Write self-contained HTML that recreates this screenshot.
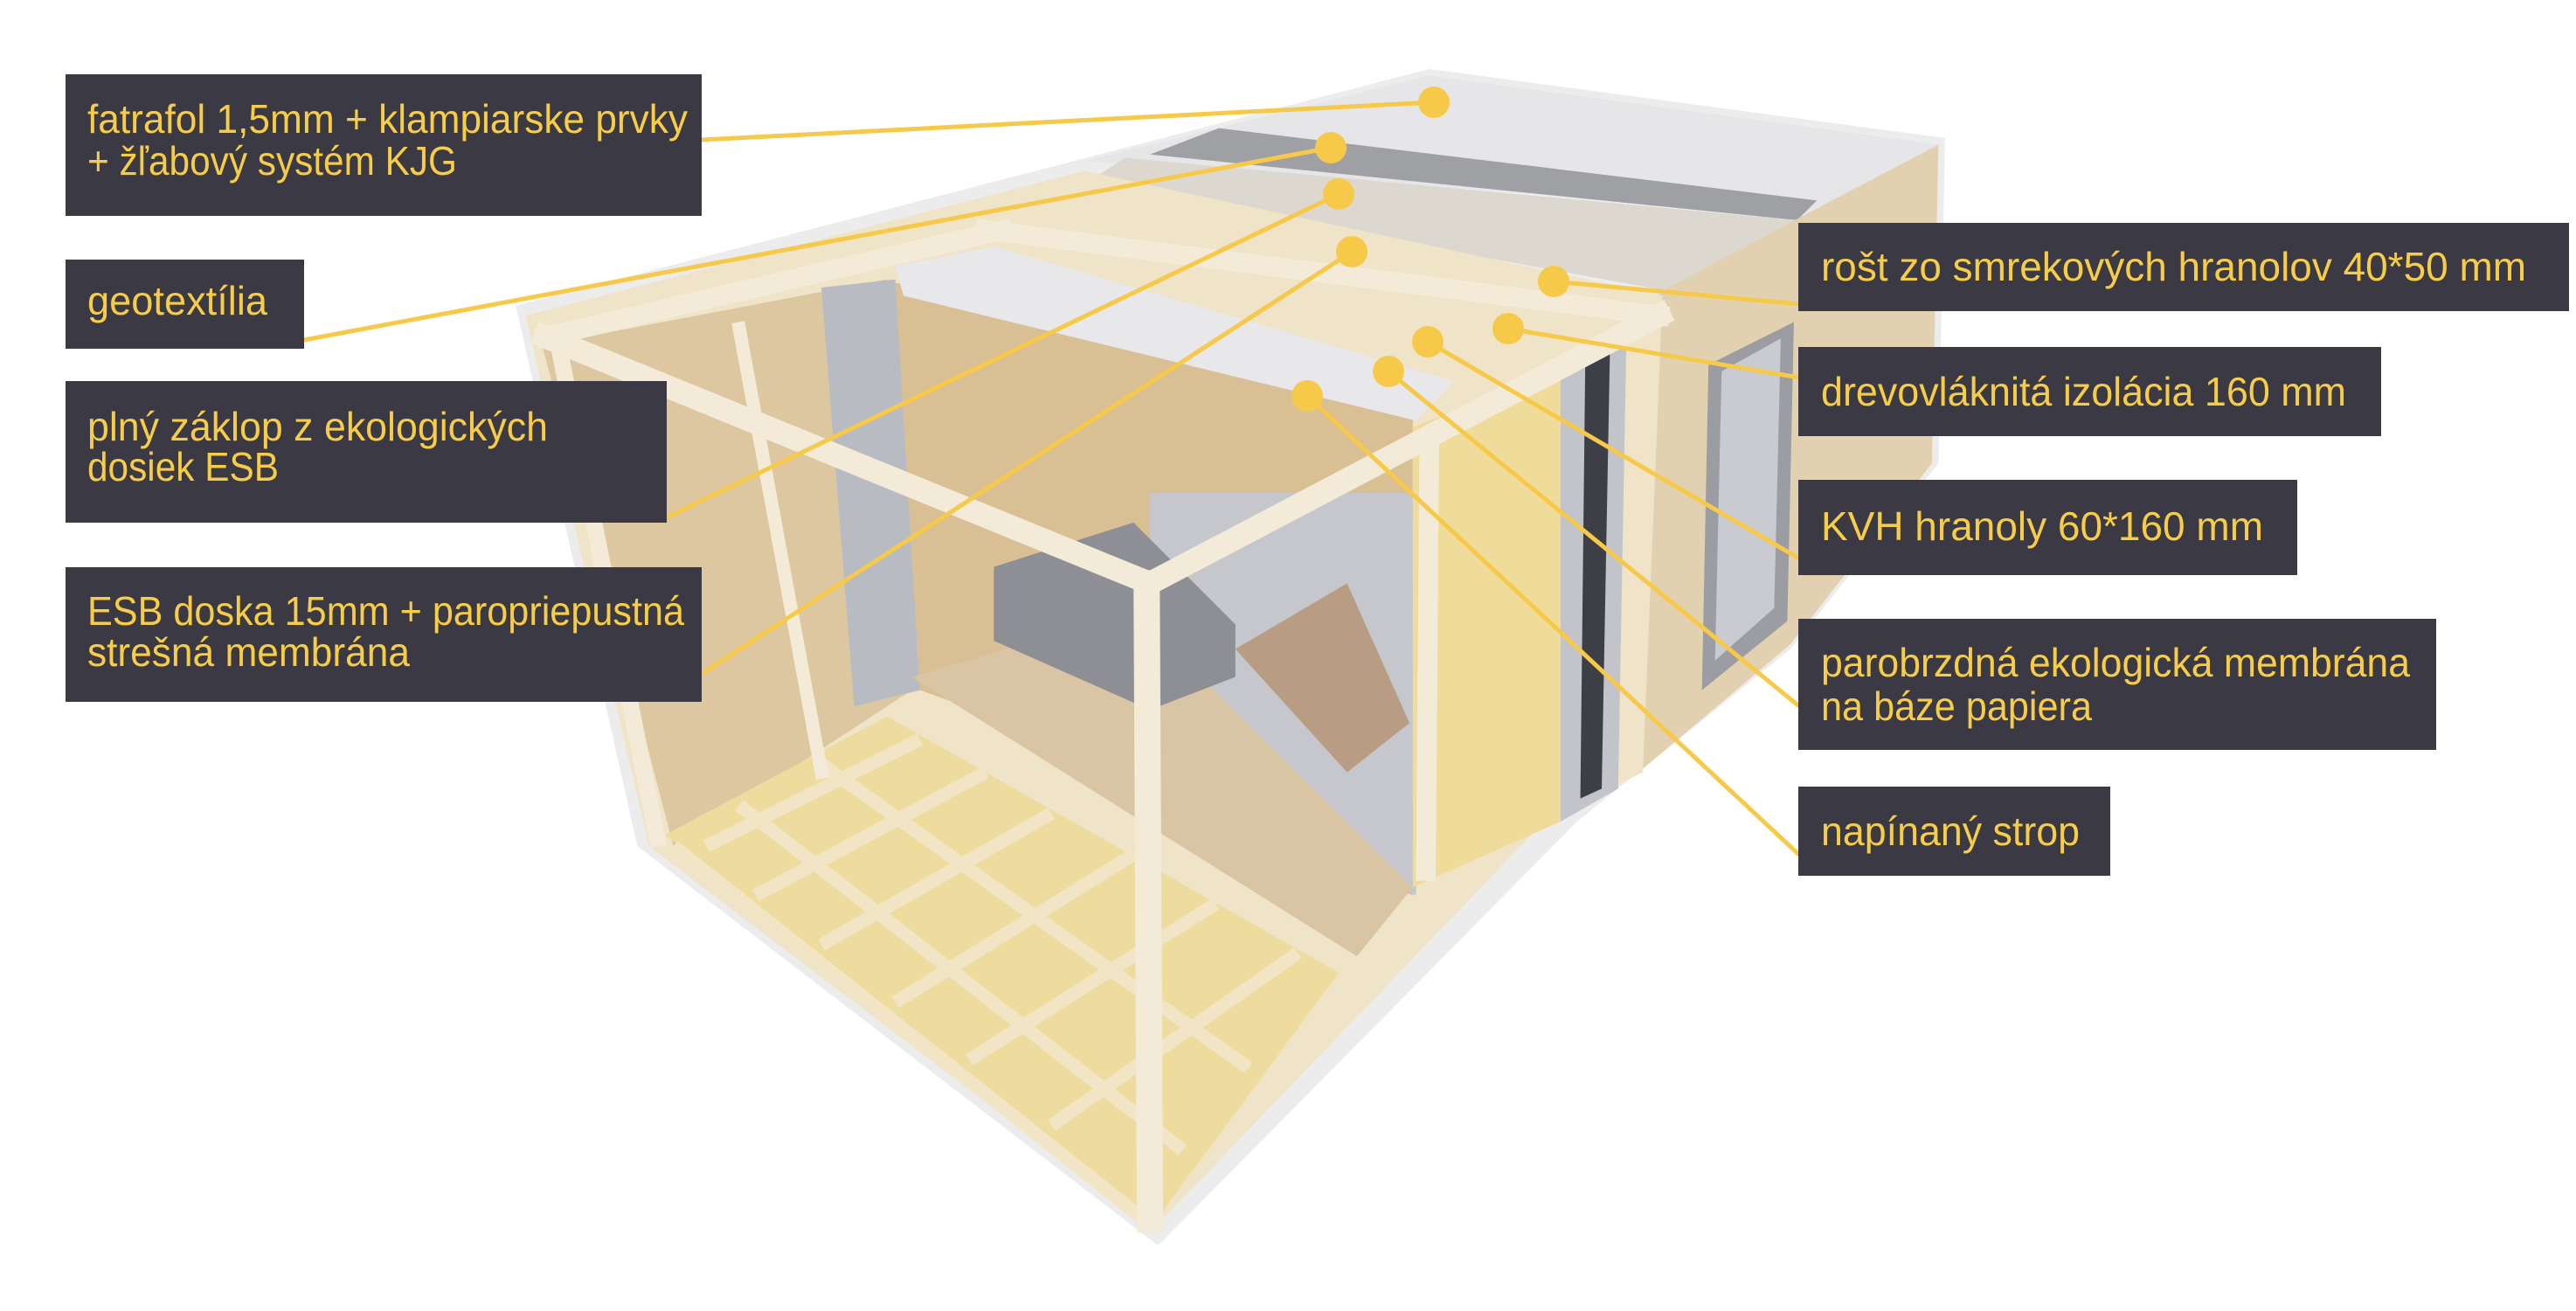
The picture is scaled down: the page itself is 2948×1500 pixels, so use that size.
<!DOCTYPE html>
<html><head><meta charset="utf-8"><style>
html,body{margin:0;padding:0;background:#fff;width:2948px;height:1500px;overflow:hidden}
svg{display:block}
text{font-family:"Liberation Sans Narrow","Liberation Sans",sans-serif;fill:#f7cd48;font-size:46px}
</style></head><body>
<svg width="2948" height="1500" viewBox="0 0 2948 1500" xmlns="http://www.w3.org/2000/svg">
<g transform="scale(1.88)">
  <polygon points="314,186 870,42 1184,84 1180,282 1090,395 960,500 705,758 388,515" fill="#ececec"/>
  <polygon points="660,98 870,46 1180,88 1100,130" fill="#e6e6e8"/>
  <polygon points="742,78 1106,122 1094,134 700,94" fill="#9fa0a4"/>
  <polygon points="685,96 1094,134 1020,178 660,112" fill="#ddd8cf"/>
  <polygon points="1010,178 1100,130 1180,88 1176,282 1090,392 1000,468" fill="#e2d1b0"/>
  <polygon points="1040,222 1092,196 1088,378 1036,420" fill="#9c9da2"/>
  <polygon points="1048,226 1084,206 1080,370 1044,402" fill="#c9cbd0"/>
  <polygon points="320,192 660,104 1012,180 1000,470 940,500 702,748 395,515" fill="#efe3c8"/>
  <polygon points="330,210 540,170 555,420 410,515" fill="#dcc7a0"/>
  <polygon points="500,175 545,170 560,420 520,430" fill="#b8bbc2"/>
  <polygon points="545,172 860,250 860,545 700,470 560,420" fill="#d8bf94"/>
  <polygon points="545,162 605,150 885,232 862,256 550,180" fill="#e8e8ea"/>
  <polygon points="700,300 862,300 862,545 700,470" fill="#c6c7cc"/>
  <polygon points="555,412 690,372 860,540 826,582" fill="#d9c5a4"/>
  <polygon points="752,395 820,355 858,440 820,470" fill="#b89c84"/>
  <polygon points="605,345 690,318 752,380 752,412 700,432 605,390" fill="#8e8f95"/>
  <polygon points="860,260 950,225 950,500 860,540" fill="#f0dc9a"/>
  <polygon points="950,225 990,208 985,480 950,500" fill="#c2c4ca"/>
  <polygon points="965,220 980,214 975,480 962,486" fill="#3e3f46"/>
  <polygon points="405,508 540,436 815,592 702,745" fill="#eedc9f"/>
  <g stroke="#f1e5c6" stroke-width="8" fill="none">
    <line x1="430" y1="515" x2="560" y2="450"/>
    <line x1="460" y1="545" x2="600" y2="470"/>
    <line x1="500" y1="575" x2="640" y2="495"/>
    <line x1="545" y1="610" x2="690" y2="520"/>
    <line x1="590" y1="645" x2="740" y2="550"/>
    <line x1="640" y1="685" x2="790" y2="580"/>
    <line x1="450" y1="490" x2="720" y2="700"/>
    <line x1="500" y1="465" x2="760" y2="650"/>
    <line x1="410" y1="515" x2="700" y2="745"/>
  </g>
  <g stroke="#f3ebd8" stroke-linecap="square" fill="none">
    <line x1="332" y1="205" x2="700" y2="355" stroke-width="14"/>
    <line x1="332" y1="205" x2="610" y2="140" stroke-width="12"/>
    <line x1="600" y1="140" x2="1010" y2="192" stroke-width="12"/>
    <line x1="700" y1="355" x2="1010" y2="192" stroke-width="14"/>
    <line x1="698" y1="355" x2="700" y2="742" stroke-width="16"/>
    <line x1="870" y1="275" x2="868" y2="530" stroke-width="12"/>
    <line x1="340" y1="210" x2="400" y2="510" stroke-width="10"/>
    <line x1="450" y1="200" x2="500" y2="470" stroke-width="8"/>
  </g>
</g>
<g stroke="#f7c948" stroke-width="5" fill="none">
  <line x1="803" y1="160" x2="1641" y2="117"/>
  <line x1="348" y1="389" x2="1523" y2="169"/>
  <line x1="763" y1="592" x2="1532" y2="222"/>
  <line x1="803" y1="771" x2="1547" y2="288"/>
  <line x1="2059" y1="348" x2="1778" y2="322"/>
  <line x1="2059" y1="432" x2="1726" y2="376"/>
  <line x1="2059" y1="639" x2="1634" y2="391"/>
  <line x1="2059" y1="808" x2="1589" y2="425"/>
  <line x1="2059" y1="978" x2="1496" y2="453"/>
</g>
<g fill="#f7c948">
  <circle cx="1641" cy="117" r="18"/><circle cx="1523" cy="169" r="18"/>
  <circle cx="1532" cy="222" r="18"/><circle cx="1547" cy="288" r="18"/>
  <circle cx="1778" cy="322" r="18"/><circle cx="1726" cy="376" r="18"/>
  <circle cx="1634" cy="391" r="18"/><circle cx="1589" cy="425" r="18"/>
  <circle cx="1496" cy="453" r="18"/>
</g>
<g fill="#3a3944">
  <rect x="75" y="85" width="728" height="162"/>
  <rect x="75" y="297" width="273" height="102"/>
  <rect x="75" y="436" width="688" height="162"/>
  <rect x="75" y="649" width="728" height="154"/>
  <rect x="2058" y="255" width="882" height="101"/>
  <rect x="2058" y="397" width="667" height="102"/>
  <rect x="2058" y="549" width="571" height="109"/>
  <rect x="2058" y="708" width="730" height="150"/>
  <rect x="2058" y="900" width="357" height="102"/>
</g>
<text x="100" y="152" textLength="687" lengthAdjust="spacingAndGlyphs">fatrafol 1,5mm + klampiarske prvky</text>
<text x="100" y="200" textLength="423" lengthAdjust="spacingAndGlyphs">+ žľabový systém KJG</text>
<text x="100" y="360" textLength="206" lengthAdjust="spacingAndGlyphs">geotextília</text>
<text x="100" y="504" textLength="527" lengthAdjust="spacingAndGlyphs">plný záklop z ekologických</text>
<text x="100" y="550" textLength="219" lengthAdjust="spacingAndGlyphs">dosiek ESB</text>
<text x="100" y="715" textLength="683" lengthAdjust="spacingAndGlyphs">ESB doska 15mm + paropriepustná</text>
<text x="100" y="762" textLength="369" lengthAdjust="spacingAndGlyphs">strešná membrána</text>
<text x="2084" y="321" textLength="807" lengthAdjust="spacingAndGlyphs">rošt zo smrekových hranolov 40*50 mm</text>
<text x="2084" y="464" textLength="601" lengthAdjust="spacingAndGlyphs">drevovláknitá izolácia 160 mm</text>
<text x="2084" y="618" textLength="506" lengthAdjust="spacingAndGlyphs">KVH hranoly 60*160 mm</text>
<text x="2084" y="774" textLength="674" lengthAdjust="spacingAndGlyphs">parobrzdná ekologická membrána</text>
<text x="2084" y="824" textLength="310" lengthAdjust="spacingAndGlyphs">na báze papiera</text>
<text x="2084" y="967" textLength="296" lengthAdjust="spacingAndGlyphs">napínaný strop</text>
</svg>
</body></html>
